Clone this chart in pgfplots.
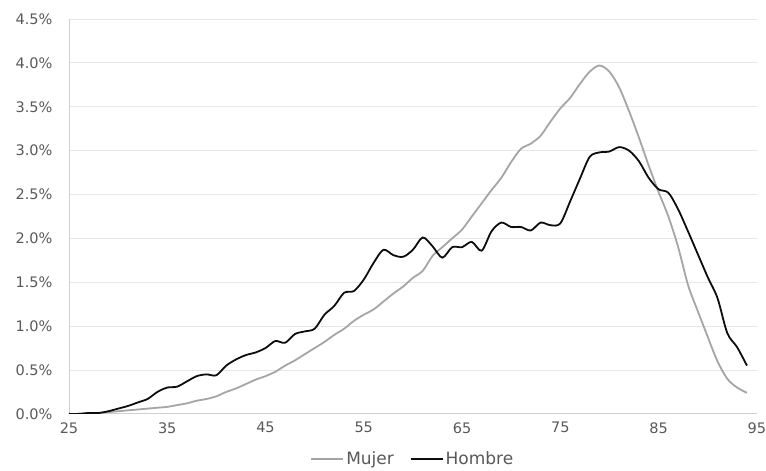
\documentclass[border=0pt]{standalone}
\usepackage{pgfplots}
\pgfplotsset{compat=1.18}
\usepackage{fontspec}
\setmainfont{DejaVu Sans}
\definecolor{mujer}{HTML}{A5A5A5}
\definecolor{hombre}{HTML}{0D0D0D}
\definecolor{gridc}{HTML}{E6E6E6}
\definecolor{axc}{HTML}{D0D0D0}
\definecolor{txt}{HTML}{595959}
\pgfplotstableread{
x m h
25 0.00 0.00
26 0.00 0.00
27 0.01 0.01
28 0.01 0.01
29 0.02 0.03
30 0.03 0.06
31 0.04 0.09
32 0.05 0.13
33 0.06 0.17
34 0.07 0.25
35 0.08 0.30
36 0.10 0.31
37 0.12 0.37
38 0.15 0.43
39 0.17 0.45
40 0.20 0.44
41 0.25 0.55
42 0.29 0.62
43 0.34 0.67
44 0.39 0.70
45 0.43 0.75
46 0.48 0.83
47 0.55 0.81
48 0.61 0.91
49 0.68 0.94
50 0.75 0.97
51 0.82 1.13
52 0.90 1.23
53 0.97 1.38
54 1.06 1.40
55 1.13 1.53
56 1.19 1.72
57 1.28 1.87
58 1.37 1.81
59 1.45 1.79
60 1.55 1.87
61 1.63 2.01
62 1.80 1.91
63 1.90 1.78
64 2.00 1.90
65 2.10 1.90
66 2.25 1.96
67 2.40 1.86
68 2.55 2.08
69 2.69 2.18
70 2.87 2.13
71 3.02 2.13
72 3.08 2.09
73 3.17 2.18
74 3.33 2.15
75 3.48 2.17
76 3.60 2.42
77 3.76 2.68
78 3.90 2.93
79 3.97 2.98
80 3.90 2.99
81 3.72 3.04
82 3.45 3.00
83 3.15 2.88
84 2.83 2.69
85 2.53 2.56
86 2.25 2.52
87 1.90 2.33
88 1.47 2.08
89 1.17 1.82
90 0.88 1.56
91 0.60 1.32
92 0.40 0.92
93 0.30 0.76
94 0.24 0.55
}\datatable
\begin{document}
\begin{tikzpicture}
\begin{axis}[
  scale only axis,
  width=688pt, height=395pt,
  xmin=25, xmax=95, ymin=0, ymax=4.5,
  axis x line*=bottom, axis y line*=left,
  axis line style={axc, line width=0.8pt, -},
  xtick={25,35,...,95},
  ytick={0,0.5,...,4.5},
  major tick length=0pt,
  ymajorgrids, grid style={gridc, line width=0.8pt},
  /pgf/number format/assume math mode=true,
  ticklabel style={font=\fontsize{14.5}{17}\selectfont, text=txt},
  yticklabel={\pgfmathprintnumber[fixed,fixed zerofill,precision=1]{\tick}\%},
  xticklabel style={yshift=-5pt, inner xsep=0pt},
  yticklabel style={xshift=-13pt},
  legend style={at={(0.5,-0.085)}, anchor=north, draw=none, legend columns=2,
    font=\fontsize{17}{20}\selectfont, text=txt,
    /tikz/every even column/.append style={column sep=14pt}},
  legend cell align=left,
  legend image code/.code={\draw[#1] (0pt,0pt) -- (32pt,0pt);},
]
\coordinate (topleft) at (rel axis cs:0,1);
\coordinate (botright) at (rel axis cs:1,0);
\addplot[mujer, line width=1.8pt, smooth, tension=0.5] table[x=x,y=m]{\datatable};
\addlegendentry{Mujer}
\addplot[hombre, line width=1.8pt, smooth, tension=0.5] table[x=x,y=h]{\datatable};
\addlegendentry{Hombre}
\end{axis}
\path (topleft) ++(-69pt,19pt);
\path (botright) ++(9pt,-52pt);
\end{tikzpicture}
\end{document}
